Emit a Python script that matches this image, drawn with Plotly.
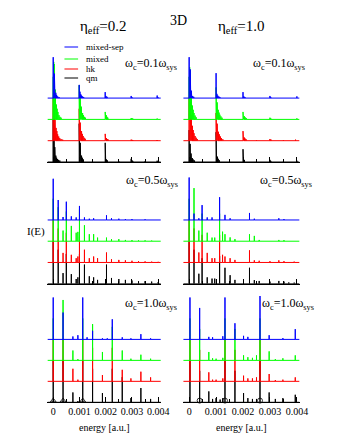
import plotly.graph_objects as go

# ---------------- data (energies in units of 1e-3 a.u., heights in stack units) ----------------
E_UNIT = 1e-3
SERIES = ["qm", "hk", "mixed", "mixed-sep"]          # drawing order (bottom -> top)
COLORS = {"mixed-sep": "#0000ff", "mixed": "#00ff00", "hk": "#ff0000", "qm": "#000000"}
OFFSETS = {"qm": 0, "hk": 1, "mixed": 2, "mixed-sep": 3}
TICK_VALS = [0, 0.001, 0.002, 0.003, 0.004]
TICK_TEXT = ["0", "0.001", "0.002", "0.003", "0.004"]
MINOR_VALS = [0.0005, 0.0015, 0.0025, 0.0035]
ETA_LABELS = ["η<sub>eff</sub>=0.2", "η<sub>eff</sub>=1.0"]
WC_LABELS = ["ω<sub>c</sub>=0.1ω<sub>sys</sub>", "ω<sub>c</sub>=0.5ω<sub>sys</sub>", "ω<sub>c</sub>=1.0ω<sub>sys</sub>"]

# top row, eta=0.2, wc=0.1
TL_SEP = [(0.0, 1.92), (0.025, 1.6), (0.045, 1.15), (0.07, 0.6), (0.10, 0.25), (0.13, 0.15), (0.17, 0.08), (0.22, 0.05),
          (0.99, 0.62), (1.02, 0.3), (1.05, 0.18), (1.08, 0.12), (1.12, 0.08), (1.16, 0.05),
          (1.98, 0.28), (2.01, 0.1), (2.05, 0.06), (2.97, 0.1), (3.0, 0.04), (3.96, 0.12), (3.99, 0.04)]
TL_MIX = [(0.0, 2.0), (0.02, 2.7), (0.04, 2.6), (0.06, 2.0), (0.08, 1.4), (0.10, 1.0), (0.12, 0.7), (0.15, 0.5),
          (0.18, 0.35), (0.22, 0.2), (0.26, 0.12), (0.30, 0.08),
          (0.99, 1.6), (1.01, 1.4), (1.03, 1.0), (1.05, 0.8), (1.07, 0.6), (1.09, 0.45), (1.12, 0.3), (1.15, 0.2),
          (1.19, 0.12), (1.23, 0.08), (1.98, 0.35), (2.0, 0.25), (2.02, 0.2), (2.05, 0.12), (2.08, 0.08),
          (2.97, 0.06), (3.0, 0.05), (3.03, 0.04), (3.96, 0.04)]
TL_HK = [(0.0, 2.0), (0.02, 1.8), (0.035, 1.6), (0.05, 1.3), (0.07, 1.0), (0.09, 0.8), (0.11, 0.6), (0.14, 0.45),
         (0.17, 0.3), (0.21, 0.2), (0.25, 0.12), (0.30, 0.08), (0.36, 0.05),
         (0.99, 1.5), (1.01, 1.1), (1.03, 0.85), (1.05, 0.65), (1.08, 0.45), (1.11, 0.32), (1.14, 0.22),
         (1.18, 0.14), (1.22, 0.09), (1.98, 0.32), (2.0, 0.2), (2.03, 0.12), (2.06, 0.08), (2.1, 0.05),
         (2.97, 0.05), (3.0, 0.04), (3.03, 0.03), (3.94, 0.03), (3.97, 0.03)]
TL_QM = [(0.0, 2.0), (0.015, 1.7), (0.03, 1.75), (0.045, 1.2), (0.06, 0.7), (0.08, 0.45), (0.10, 0.3), (0.13, 0.2),
         (0.16, 0.14), (0.2, 0.1), (0.25, 0.07), (0.99, 1.8), (1.01, 1.2), (1.03, 0.9), (1.05, 0.5), (1.08, 0.3),
         (1.11, 0.2), (1.15, 0.12), (1.98, 0.9), (2.0, 0.25), (2.03, 0.12), (2.06, 0.08), (2.5, 0.03),
         (2.97, 0.15), (3.0, 0.08), (3.03, 0.05), (3.5, 0.03), (3.96, 0.06)]

# top row, eta=1.0, wc=0.1
TR_SEP = [(0.0, 1.92), (0.02, 1.45), (0.04, 1.35), (0.06, 0.7), (0.08, 0.35), (0.10, 0.2), (0.13, 0.1), (0.17, 0.06),
          (1.0, 1.17), (1.03, 0.2), (1.06, 0.12), (1.1, 0.08), (1.14, 0.05), (2.0, 0.28), (2.03, 0.08), (2.07, 0.05),
          (3.0, 0.1), (3.03, 0.04), (4.0, 0.08)]
TR_MIX = [(0.0, 2.0), (0.02, 2.45), (0.04, 2.3), (0.06, 1.7), (0.08, 1.2), (0.10, 0.9), (0.12, 0.65), (0.15, 0.45),
          (0.18, 0.3), (0.22, 0.18), (0.26, 0.1), (1.0, 1.5), (1.02, 1.0), (1.04, 0.8), (1.06, 0.6), (1.08, 0.45),
          (1.11, 0.32), (1.14, 0.22), (1.18, 0.14), (1.22, 0.08), (2.0, 0.35), (2.02, 0.22), (2.05, 0.15),
          (2.08, 0.1), (2.12, 0.06), (3.0, 0.08), (3.03, 0.05), (4.0, 0.05)]
TR_HK = [(0.0, 2.0), (0.02, 1.85), (0.04, 1.8), (0.06, 1.5), (0.08, 1.2), (0.10, 0.9), (0.12, 0.7), (0.15, 0.5),
         (0.18, 0.35), (0.22, 0.22), (0.26, 0.14), (0.3, 0.08), (1.0, 1.3), (1.02, 1.0), (1.04, 0.8), (1.06, 0.6),
         (1.09, 0.42), (1.12, 0.3), (1.16, 0.2), (1.2, 0.12), (1.25, 0.07), (2.0, 0.45), (2.02, 0.25),
         (2.05, 0.15), (2.08, 0.1), (2.12, 0.06), (2.5, 0.03), (3.0, 0.08), (3.04, 0.05), (3.5, 0.03), (3.95, 0.05)]
TR_QM = [(0.0, 1.5), (0.02, 1.2), (0.035, 0.85), (0.05, 0.6), (0.07, 0.4), (0.09, 0.28), (0.12, 0.18), (0.15, 0.12),
         (0.2, 0.07), (1.0, 1.4), (1.02, 0.5), (1.05, 0.25), (1.08, 0.15), (1.12, 0.08), (2.0, 0.6), (2.02, 0.2),
         (2.05, 0.1), (2.5, 0.03), (3.0, 0.1), (3.03, 0.05), (3.5, 0.03), (4.0, 0.06)]

# middle row, eta=0.2, wc=0.5
ML_SEP = [(0.0, 1.94), (0.19, 0.94), (0.375, 0.14), (0.5, 0.86), (0.69, 0.17), (0.875, 0.12), (1.0, 0.66),
          (1.19, 0.12), (1.375, 0.06), (1.54, 0.08), (2.03, 0.22), (2.22, 0.08), (2.5, 0.06), (2.75, 0.04),
          (3.0, 0.04), (3.5, 0.03)]
ML_MIX = [(0.0, 2.0), (0.19, 1.6), (0.375, 0.5), (0.5, 1.4), (0.69, 0.72), (0.875, 0.4), (0.94, 0.44), (1.0, 1.5),
          (1.19, 0.75), (1.375, 0.33), (1.54, 0.33), (1.69, 0.17), (2.03, 0.17), (2.22, 0.1), (2.5, 0.1),
          (2.75, 0.06), (3.0, 0.05), (3.25, 0.04), (3.5, 0.04), (3.75, 0.03)]
ML_HK = [(0.0, 2.0), (0.19, 1.6), (0.375, 0.45), (0.5, 1.4), (0.69, 0.36), (0.875, 0.2), (0.94, 0.28), (1.0, 1.2),
         (1.19, 0.6), (1.375, 0.2), (1.54, 0.28), (1.69, 0.2), (2.03, 0.47), (2.22, 0.15), (2.5, 0.12),
         (2.75, 0.1), (3.0, 0.08), (3.25, 0.06), (3.5, 0.05), (3.75, 0.04), (4.0, 0.03)]
ML_QM = [(0.0, 2.0), (0.19, 1.6), (0.375, 0.5), (0.5, 1.4), (0.69, 0.45), (0.875, 0.22), (0.94, 0.3), (1.0, 1.4),
         (1.19, 0.9), (1.375, 0.35), (1.54, 0.3), (1.69, 0.18), (2.03, 0.9), (2.22, 0.27), (2.5, 0.22),
         (2.75, 0.18), (3.0, 0.15), (3.25, 0.12), (3.5, 0.12), (3.75, 0.1), (4.0, 0.08)]

# middle row, eta=1.0, wc=0.5
MR_SEP = [(0.0, 2.0), (0.18, 0.3), (0.36, 0.08), (0.48, 0.7), (0.67, 0.12), (0.85, 0.12), (1.13, 1.07), (1.33, 0.24),
          (1.52, 0.08), (2.24, 0.33), (2.42, 0.06), (3.33, 0.08), (3.52, 0.04)]
MR_MIX = [(0.0, 2.0), (0.18, 2.5), (0.36, 0.5), (0.48, 1.3), (0.67, 0.4), (0.85, 0.17), (0.95, 0.17), (1.13, 1.3),
          (1.24, 0.45), (1.33, 0.33), (1.52, 0.18), (1.7, 0.1), (2.24, 0.33), (2.42, 0.25), (2.6, 0.06),
          (3.33, 0.06), (3.52, 0.05)]
MR_HK = [(0.0, 2.0), (0.18, 1.6), (0.36, 0.47), (0.48, 1.3), (0.67, 0.45), (0.85, 0.2), (0.95, 0.2), (1.13, 1.3),
         (1.24, 0.36), (1.33, 0.28), (1.52, 0.2), (1.7, 0.12), (2.24, 0.57), (2.42, 0.1), (2.6, 0.08), (3.0, 0.06),
         (3.33, 0.1), (3.52, 0.06), (3.9, 0.04)]
MR_QM = [(0.0, 2.0), (0.18, 1.6), (0.36, 0.47), (0.48, 1.2), (0.67, 0.3), (0.85, 0.24), (0.95, 0.24), (1.13, 1.3),
         (1.33, 0.75), (1.52, 0.4), (1.7, 0.18), (2.24, 0.75), (2.42, 0.17), (2.6, 0.13), (3.0, 0.1), (3.33, 0.13),
         (3.52, 0.1), (3.7, 0.06), (3.9, 0.05)]

# bottom row, eta=0.2, wc=1.0
BL_SEP = [(0.0, 2.0), (0.375, 1.28), (0.75, 0.14), (0.94, 0.2), (1.125, 2.0), (1.29, 0.1), (1.5, 0.41),
          (1.875, 0.05), (2.06, 0.05), (2.25, 0.96), (2.63, 0.1), (2.96, 0.05), (3.34, 0.25), (3.71, 0.05)]
BL_MIX = [(0.0, 2.0), (0.375, 2.88), (0.75, 0.47), (0.94, 0.06), (1.125, 2.0), (1.5, 1.73), (1.875, 0.4),
          (2.25, 1.6), (2.63, 0.47), (2.96, 0.08), (3.34, 0.27), (3.71, 0.08)]
BL_HK = [(0.0, 2.0), (0.375, 2.0), (0.75, 0.6), (0.94, 0.08), (1.125, 2.0), (1.5, 1.6), (1.875, 0.3), (2.25, 1.6),
         (2.63, 0.55), (2.96, 0.14), (3.34, 0.46), (3.71, 0.19)]
BL_QM = [(0.0, 2.0), (0.375, 2.0), (0.75, 0.47), (0.94, 0.06), (1.125, 2.0), (1.5, 1.6), (1.875, 0.44), (2.25, 1.6),
         (2.63, 1.2), (2.96, 0.2), (3.34, 0.68), (3.71, 0.16)]
BL_MARKS = [0.0, 0.375, 1.125]

# bottom row, eta=1.0, wc=1.0
BR_SEP = [(0.03, 2.0), (0.39, 1.5), (0.73, 0.12), (0.87, 0.1), (1.25, 0.15), (1.33, 2.0), (1.7, 0.77), (2.02, 0.17),
          (2.18, 0.12), (2.63, 2.1), (2.97, 0.2), (3.48, 0.06), (3.94, 0.49)]
BR_MIX = [(0.03, 2.0), (0.39, 1.5), (0.73, 0.4), (0.87, 0.1), (1.0, 0.08), (1.25, 0.12), (1.33, 2.0), (1.7, 1.5),
          (2.02, 0.24), (2.18, 0.15), (2.35, 0.12), (2.5, 0.24), (2.63, 2.0), (2.97, 0.43), (3.2, 0.06),
          (3.48, 0.1), (3.94, 0.24)]
BR_HK = [(0.03, 2.0), (0.39, 1.5), (0.73, 0.43), (0.87, 0.08), (1.0, 0.08), (1.25, 0.14), (1.33, 2.0), (1.7, 1.5),
         (2.02, 0.27), (2.18, 0.14), (2.35, 0.14), (2.5, 0.19), (2.63, 2.0), (2.97, 0.35), (3.2, 0.06), (3.48, 0.08),
         (3.94, 0.19)]
BR_QM = [(0.03, 2.0), (0.39, 1.5), (0.73, 0.52), (0.87, 0.16), (1.0, 0.2), (1.15, 0.13), (1.25, 0.2), (1.33, 2.0),
         (1.7, 1.5), (2.02, 0.44), (2.18, 0.2), (2.35, 0.16), (2.5, 0.16), (2.63, 2.0), (2.97, 0.47), (3.2, 0.16),
         (3.48, 0.2), (3.94, 0.36)]
BR_MARKS = [0.39, 1.33, 2.63]

PANELS = [
    (0, 0, {"mixed-sep": TL_SEP, "mixed": TL_MIX, "hk": TL_HK, "qm": TL_QM}, None, None),
    (0, 1, {"mixed-sep": TR_SEP, "mixed": TR_MIX, "hk": TR_HK, "qm": TR_QM}, None, None),
    (1, 0, {"mixed-sep": ML_SEP, "mixed": ML_MIX, "hk": ML_HK, "qm": ML_QM}, None, None),
    (1, 1, {"mixed-sep": MR_SEP, "mixed": MR_MIX, "hk": MR_HK, "qm": MR_QM}, None, None),
    (2, 0, {"mixed-sep": BL_SEP, "mixed": BL_MIX, "hk": BL_HK, "qm": BL_QM}, BL_MARKS, "triangle-up-open"),
    (2, 1, {"mixed-sep": BR_SEP, "mixed": BR_MIX, "hk": BR_HK, "qm": BR_QM}, BR_MARKS, "circle-open"),
]

# ---------------- layout geometry ----------------
W, H = 340, 440
X_RANGE = [-0.00022, 0.0041]
Y_RANGE = [0, 5.07]
COL_DOM = [(40.5, 157.0), (180.0, 299.5)]
ROW_DOM = [(46.0, 154.0), (168.0, 275.7), (288.0, 394.3)]
FONT = "Liberation Serif"


def px(x):
    return x / W


def py(y):
    return 1 - y / H


def stick_xy(peaks, base):
    xs, ys = [X_RANGE[0]], [base]
    for e, h in sorted(peaks):
        x = e * E_UNIT
        xs += [x, x, x]
        ys += [base, base + h, base]
    xs.append(X_RANGE[1])
    ys.append(base)
    return xs, ys


fig = go.Figure()
layout = {}
for idx, (r, c, data, marks, msym) in enumerate(PANELS):
    k = idx + 1
    xa = "x" if k == 1 else f"x{k}"
    ya = "y" if k == 1 else f"y{k}"
    for name in SERIES:
        xs, ys = stick_xy(data[name], OFFSETS[name])
        fig.add_trace(go.Scatter(x=xs, y=ys, mode="lines", name=name, showlegend=False,
                                 line=dict(color=COLORS[name], width=1), hoverinfo="skip",
                                 xaxis=xa, yaxis=ya))
    if marks:
        fig.add_trace(go.Scatter(x=[m * E_UNIT for m in marks], y=[0.08] * len(marks), mode="markers",
                                 marker=dict(symbol=msym, size=5, color="black", line=dict(width=0.8)),
                                 showlegend=False, hoverinfo="skip", xaxis=xa, yaxis=ya, cliponaxis=False))
    x0, x1 = COL_DOM[c]
    y0, y1 = ROW_DOM[r]
    layout["xaxis" if k == 1 else f"xaxis{k}"] = dict(
        domain=[px(x0), px(x1)], range=X_RANGE, anchor=ya, showgrid=False, zeroline=False,
        showline=True, linecolor="black", linewidth=1, ticks="inside", ticklen=5, tickcolor="black",
        tickmode="array", tickvals=TICK_VALS, ticktext=TICK_TEXT, showticklabels=(r == 2),
        tickfont=dict(family=FONT, size=10, color="black"),
        minor=dict(tickmode="array", tickvals=MINOR_VALS, ticks="inside", ticklen=3, tickcolor="black"),
        fixedrange=True)
    layout["yaxis" if k == 1 else f"yaxis{k}"] = dict(
        domain=[py(y1), py(y0)], range=Y_RANGE, anchor=xa, visible=False, fixedrange=True)

annotations = []


def ann(text, x, y, size, xanchor="center", yanchor="middle"):
    annotations.append(dict(text=text, x=px(x), y=py(y), xref="paper", yref="paper", showarrow=False,
                            xanchor=xanchor, yanchor=yanchor, font=dict(family=FONT, size=size, color="black")))


ann("3D", 175, 13, 14)
ann(ETA_LABELS[0], 98, 19, 15)
ann(ETA_LABELS[1], 240, 19, 15)
wc_pos = [[(176, 56), (307, 56)], [(177, 173), (314, 173)], [(176, 296), (316, 296)]]
for r in range(3):
    for c in range(2):
        x, y = wc_pos[r][c]
        ann(WC_LABELS[r], x, y, 12, xanchor="right")
ann("I(E)", 29, 223, 11)
ann("energy [a.u.]", 99, 419, 10)
ann("energy [a.u.]", 240, 419, 10)

# legend
shapes = []
legend_rows = [("mixed-sep", 39), ("mixed", 51), ("hk", 61), ("qm", 70)]
for name, y in legend_rows:
    shapes.append(dict(type="line", xref="paper", yref="paper", x0=px(58), x1=px(72), y0=py(y), y1=py(y),
                       line=dict(color=COLORS[name], width=1)))
    ann(name, 78, y, 9, xanchor="left")

fig.update_layout(width=W, height=H, margin=dict(l=0, r=0, t=0, b=0), paper_bgcolor="white",
                  plot_bgcolor="white", showlegend=False, annotations=annotations, shapes=shapes, **layout)
fig.write_html("out.html")
